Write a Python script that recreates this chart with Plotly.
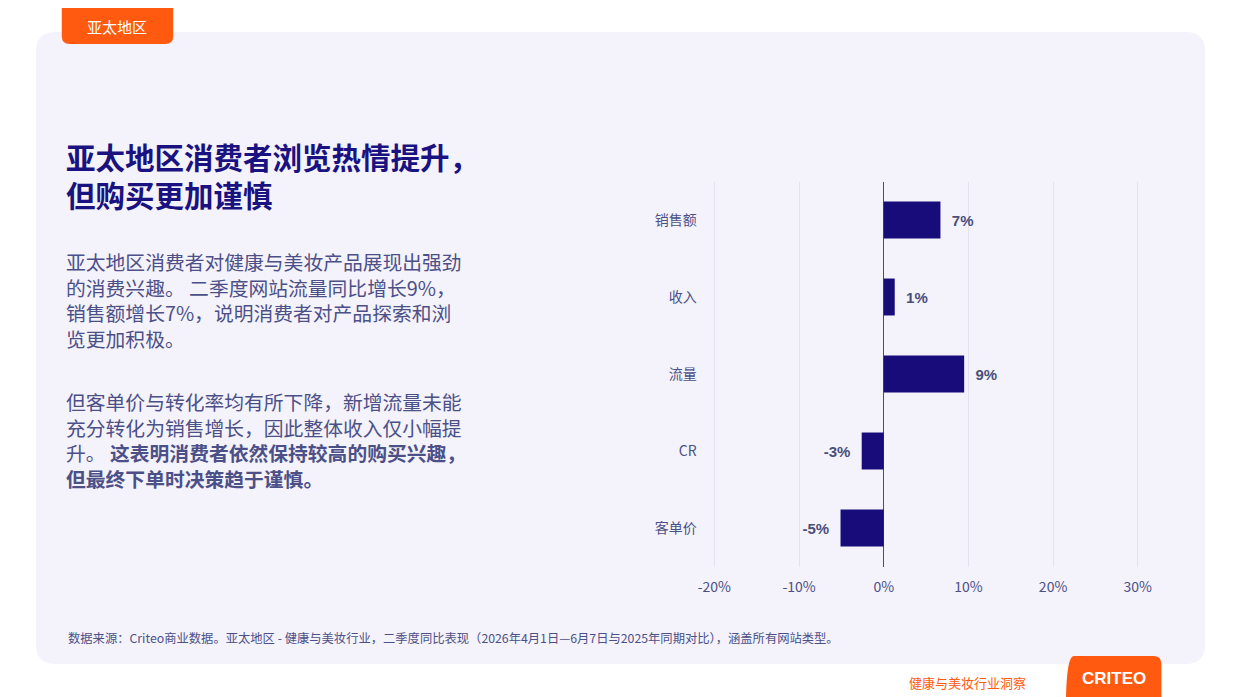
import plotly.graph_objects as go

categories = ["销售额", "收入", "流量", "CR", "客单价"]
values = [6.7, 1.3, 9.5, -2.6, -5.1]
value_labels = ["7%", "1%", "9%", "-3%", "-5%"]
tick_vals = [-20, -10, 0, 10, 20, 30]
tick_text = ["-20%", "-10%", "0%", "10%", "20%", "30%"]

W, H = 1240, 697
OFF = 8  # page body margin
navy = "#170c7a"
font = "Noto Sans CJK SC"

def pad(t, v):
    return ("  <b>%s</b>" % t) if v >= 0 else ("<b>%s</b>  " % t)

fig = go.Figure()
fig.add_trace(go.Bar(
    y=categories, x=values, orientation="h", width=0.48,
    marker=dict(color=navy, line=dict(width=0)),
    text=[pad(t, v) for t, v in zip(value_labels, values)], textposition="outside",
    textfont=dict(color="#4a4f7a", size=15, family="Liberation Sans"),
    cliponaxis=False, hoverinfo="skip"))

def px(x): return (x - OFF) / W
def py(y): return 1 - (y - OFF) / H

shapes = [
    dict(type="path", xref="paper", yref="paper", layer="below",
         path="M %f %f L %f %f Q %f %f %f %f L %f %f Q %f %f %f %f L %f %f Q %f %f %f %f L %f %f Q %f %f %f %f Z" % (
             px(52), py(32), px(1187), py(32), px(1207), py(32), px(1207), py(52),
             px(1207), py(644), px(1207), py(664), px(1187), py(664),
             px(52), py(664), px(32), py(664), px(32), py(644),
             px(32), py(52), px(32), py(32), px(52), py(32)),
         fillcolor="#f4f2fa", line=dict(width=0)),
    dict(type="path", xref="paper", yref="paper",
         path="M %f %f L %f %f L %f %f Q %f %f %f %f L %f %f Q %f %f %f %f Z" % (
             px(58), py(-10), px(170), py(-10), px(170), py(36), px(170), py(44), px(162), py(44),
             px(66), py(44), px(58), py(44), px(58), py(36)),
         fillcolor="#ff5a0f", line=dict(width=0)),
    dict(type="path", xref="paper", yref="paper",
         path="M %f %f Q %f %f %f %f L %f %f Q %f %f %f %f L %f %f L %f %f Z" % (
             px(1067), py(710), px(1067), py(656), px(1075), py(656),
             px(1155), py(656), px(1163), py(656), px(1163), py(664),
             px(1163), py(710), px(1067), py(710)),
         fillcolor="#ff5a0f", line=dict(width=0)),
]

ann = []
def text(x, y, s, size, color, anchor="left", yanchor="middle", fam=font):
    ann.append(dict(x=px(x), y=py(y), xref="paper", yref="paper", text=s, showarrow=False,
                    xanchor=anchor, yanchor=yanchor, align="left",
                    font=dict(size=size, color=color, family=fam)))

text(114, 26, "亚太地区", 15, "white", "center")
text(60, 175, "<b>亚太地区消费者浏览热情提升，<br>但购买更加谨慎</b>", 29.5, "#1a1280")
body = "#4c5088"
text(60, 300, "亚太地区消费者对健康与美妆产品展现出强劲<br>的消费兴趣。 二季度网站流量同比增长9%，<br>销售额增长7%，说明消费者对产品探索和浏<br>览更加积极。", 19.8, body)
text(60, 440, "但客单价与转化率均有所下降，新增流量未能<br>充分转化为销售增长，因此整体收入仅小幅提<br>升。 <b>这表明消费者依然保持较高的购买兴趣，<br>但最终下单时决策趋于谨慎。</b>", 19.8, body)
text(62, 638, "数据来源：Criteo商业数据。亚太地区 - 健康与美妆行业，二季度同比表现（2026年4月1日—6月7日与2025年同期对比），涵盖所有网站类型。", 12.3, body)
text(968, 682, "健康与美妆行业洞察", 13, "#ff5a0f", "center")
text(1115, 678, "<b>CRITEO</b>", 17, "white", "center", fam="Liberation Sans")

fig.update_layout(
    width=W, height=H, margin=dict(l=0, r=0, t=0, b=0),
    paper_bgcolor="white", plot_bgcolor="rgba(0,0,0,0)",
    shapes=shapes, annotations=ann, showlegend=False,
    xaxis=dict(domain=[px(701), px(1152)], range=[-21.5, 31.5], tickvals=tick_vals, ticktext=tick_text,
               showgrid=True, gridcolor="#e4e2ee", zeroline=True, zerolinecolor="#4a44a0", zerolinewidth=1,
               tickfont=dict(size=14, color="#4c5088", family=font), ticks="", showline=False,
               ticklabelstandoff=10),
    yaxis=dict(domain=[py(566.5), py(181.5)], categoryorder="array", categoryarray=categories[::-1],
               showgrid=False, zeroline=False, ticks="", ticklabelstandoff=4,
               tickfont=dict(size=14, color="#4c5088", family=font)),
)
fig.write_html("out.html")
